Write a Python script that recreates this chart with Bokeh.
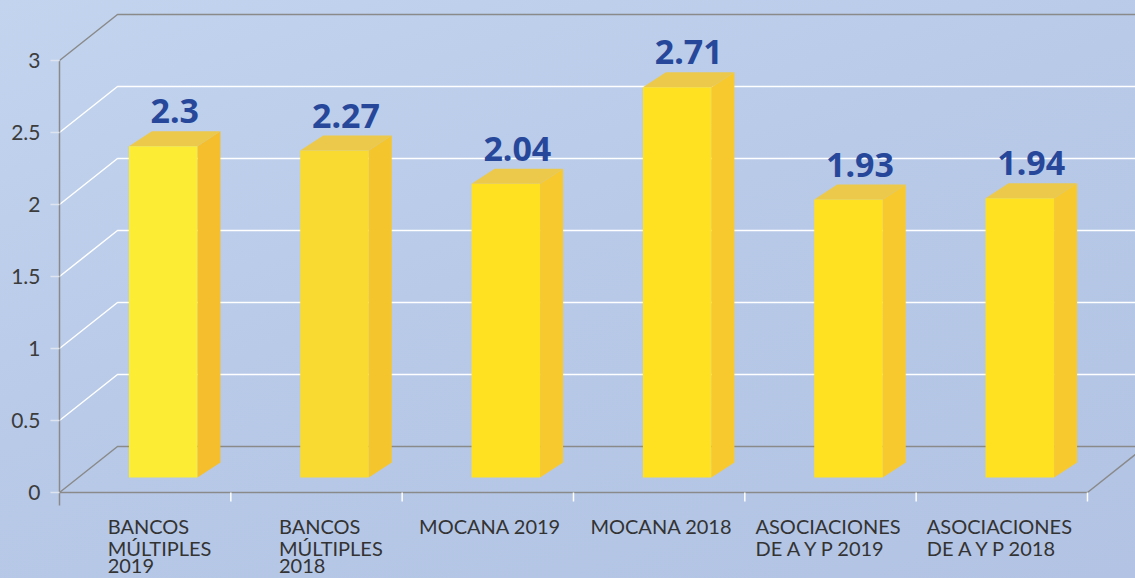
from bokeh.plotting import figure
from bokeh.models import FixedTicker, LinearAxis, Range1d
from bokeh.embed import file_html
from bokeh.resources import INLINE
from bokeh.core.properties import value

# ---------------- data ----------------
categories = [
    "BANCOS\nMÚLTIPLES\n2019",
    "BANCOS\nMÚLTIPLES\n2018",
    "MOCANA 2019",
    "MOCANA 2018",
    "ASOCIACIONES\nDE A Y P 2019",
    "ASOCIACIONES\nDE A Y P 2018",
]
values = [2.3, 2.27, 2.04, 2.71, 1.93, 1.94]
value_labels = ["2.3", "2.27", "2.04", "2.71", "1.93", "1.94"]
y_ticks = [0, 0.5, 1, 1.5, 2, 2.5, 3]
y_tick_labels = ["0", "0.5", "1", "1.5", "2", "2.5", "3"]

# ---------------- styling ----------------
front_colors = ["#fcec33", "#f9da30", "#ffe121", "#ffe121", "#ffe121", "#ffe121"]
side_colors = ["#f5be2c", "#f5c52d", "#f7c92f", "#f7c92f", "#f7c92f", "#f7c92f"]
top_color = "#edc94b"
label_blue = "#27479a"
axis_gray = "#8a8a8a"

W, H = 1135, 578
LEFT = 59                      # y axis line position
BASE = 492                     # pixel row of the front zero line
PX_X, PX_Y = 171.33, 144.0     # pixels per category / per unit
frame_w, frame_h = W - LEFT, H

DX, DY = 58 / PX_X, 46 / PX_Y        # full depth of the 3D box
FDX, FDY = 18 / PX_X, 15 / PX_Y      # depth of the bar front faces
SDX, SDY = 23 / PX_X, 15 / PX_Y      # depth of the bars themselves
BW = 0.4                             # bar width in category units

p = figure(width=W, height=H,
           x_range=Range1d(0, frame_w / PX_X),
           y_range=Range1d(-(H - BASE) / PX_Y, BASE / PX_Y),
           output_backend="svg", toolbar_location=None,
           x_axis_type=None, y_axis_type=None,
           min_border_left=LEFT, min_border_bottom=0,
           min_border_top=0, min_border_right=0)
p.grid.visible = False
p.outline_line_color = None
p.background_fill_color = None
p.border_fill_color = None

n = len(values)

# ---------------- walls / gridlines ----------------
xend = n + DX + 1
g_xs, g_ys, g_col = [], [], []
for v in y_ticks:
    g_xs.append([0, DX, xend])
    g_ys.append([v, v + DY, v + DY])
    g_col.append(axis_gray if v in (y_ticks[0], y_ticks[-1]) else "white")
# front floor edge and right floor diagonal
g_xs.append([0, n, n + DX])
g_ys.append([0, 0, DY])
g_col.append(axis_gray)
p.multi_line(xs=g_xs, ys=g_ys, line_color=g_col, line_width=1.5)

# category separator ticks below the floor edge
p.segment(x0=list(range(1, n + 1)), y0=[0] * n,
          x1=list(range(1, n + 1)), y1=[-9 / PX_Y] * n,
          line_color="white", line_width=1.5)

# ---------------- bars ----------------
fl, fr, fb, ft = [], [], [], []
s_xs, s_ys, t_xs, t_ys = [], [], [], []
for i, v in enumerate(values):
    x0 = i + 0.5 - BW / 2 + FDX
    x1 = x0 + BW
    y0 = FDY
    y1 = v + FDY
    fl.append(x0); fr.append(x1); fb.append(y0); ft.append(y1)
    s_xs.append([x1, x1 + SDX, x1 + SDX, x1])
    s_ys.append([y0, y0 + SDY, y1 + SDY, y1])
    t_xs.append([x0, x1, x1 + SDX, x0 + SDX])
    t_ys.append([y1, y1, y1 + SDY, y1 + SDY])

p.patches(xs=s_xs, ys=s_ys, fill_color=side_colors, line_color=None)
p.patches(xs=t_xs, ys=t_ys, fill_color=top_color, line_color=None)
p.quad(left=fl, right=fr, bottom=fb, top=ft, fill_color=front_colors, line_color=None)

# value labels
p.text(x=[i + 0.5 + FDX + SDX / 2 for i in range(n)],
       y=[v + FDY + 35 / PX_Y for v in values],
       text=value_labels, text_align="center", text_baseline="alphabetic",
       text_font=value("Noto Sans"), text_font_style="bold",
       text_font_size="34px", text_color=label_blue)

# ---------------- y axis ----------------
yax = LinearAxis(ticker=FixedTicker(ticks=y_ticks), bounds=(-0.09, y_ticks[-1]),
                 major_label_overrides=dict(zip(y_ticks, y_tick_labels)),
                 axis_line_color=axis_gray, axis_line_width=1.5,
                 major_tick_line_color="#dfe5f0", major_tick_line_width=1.5,
                 major_tick_out=9, major_tick_in=0, minor_tick_line_color=None,
                 major_label_text_font="Lato", major_label_text_font_size="21px",
                 major_label_text_color="#3c3c3c", major_label_standoff=10)
p.add_layout(yax, "left")

# ---------------- category labels ----------------
lx, ly, lt = [], [], []
for i, c in enumerate(categories):
    lines = c.split("\n")
    half = len(lines[0]) * 12.5 / 2 / PX_X
    for k, line in enumerate(lines):
        lx.append(i + 0.5 - half)
        ly.append(-(21 + 22.5 * k) / PX_Y)
        lt.append(line)
p.text(x=lx, y=ly, text=lt, text_align="left", text_baseline="top",
       text_font=value("Lato"), text_font_size="20px", text_color="#333333")

html = file_html(p, INLINE)
style = ("<style>html{min-height:100%;background:linear-gradient(160deg,#c2d4ee 0%,"
         "#b8cae8 45%,#b2c3e3 100%) fixed;}body{background:transparent;}</style>")
html = html.replace("</head>", style + "</head>", 1)
open("out.html", "w").write(html)
